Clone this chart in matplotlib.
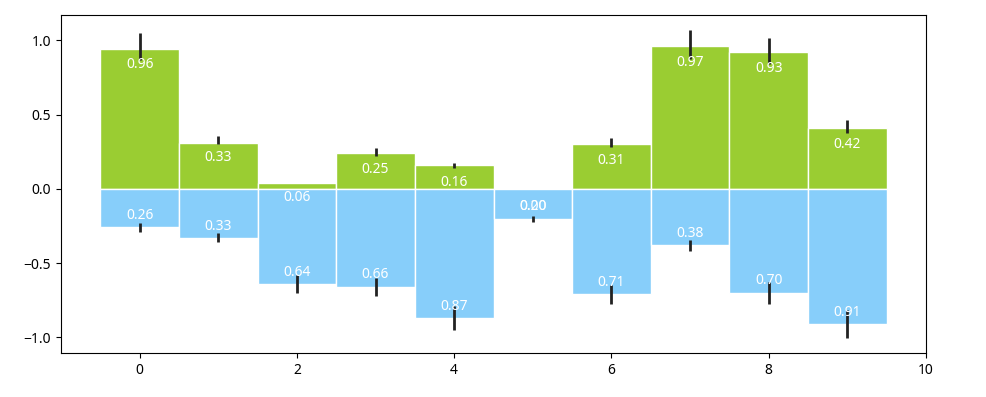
import numpy as np
import matplotlib
matplotlib.use("Agg")
import matplotlib.pyplot as plt

plt.rcParams['font.family'] = ['Noto Sans', 'DejaVu Sans']

# data
X = np.arange(10)
pos_heights = [0.94, 0.31, 0.04, 0.24, 0.16, 0.00, 0.30, 0.96, 0.92, 0.41]
pos_means = [0.96, 0.33, 0.06, 0.25, 0.16, 0.00, 0.31, 0.97, 0.93, 0.42]
pos_err = [0.09, 0.028, 0.003, 0.027, 0.016, 0.0, 0.03, 0.098, 0.087, 0.043]
neg_values = [0.26, 0.33, 0.64, 0.66, 0.87, 0.20, 0.71, 0.38, 0.70, 0.91]
neg_err = [0.028, 0.03, 0.06, 0.063, 0.082, 0.02, 0.065, 0.036, 0.073, 0.092]


def plot_bars():
    """
    Draws the up/down bar chart with error bars and value labels
    """
    fig = plt.figure(figsize=(9.86, 3.97), dpi=100)
    ax = fig.add_axes([61 / 986, 1 - 353 / 397, (926 - 61) / 986, (353 - 15) / 397])

    neg = -np.array(neg_values)

    ax.bar(X, pos_heights, width=1.0, color="yellowgreen", edgecolor="white", linewidth=1)
    ax.bar(X, neg, width=1.0, color="lightskyblue", edgecolor="white", linewidth=1)

    ax.errorbar(X, pos_means, yerr=pos_err, fmt="none", ecolor="#222222", elinewidth=2)
    ax.errorbar(X, neg, yerr=neg_err, fmt="none", ecolor="#222222", elinewidth=2)

    # labels inside the bars
    for x, y in zip(X, pos_means):
        ax.text(x, y - 0.12, "%.2f" % y, ha="center", va="center", color="white", fontsize=10)
    for x, y in zip(X, neg_values):
        ax.text(x, -y + 0.08, "%.2f" % y, ha="center", va="center", color="white", fontsize=10)

    ax.set_xlim(-1, 10)
    ax.set_xticks(range(0, 11, 2))
    ax.set_yticks([-1.0, -0.5, 0.0, 0.5, 1.0])

    fig.savefig("out.png", dpi=100)


plot_bars()
